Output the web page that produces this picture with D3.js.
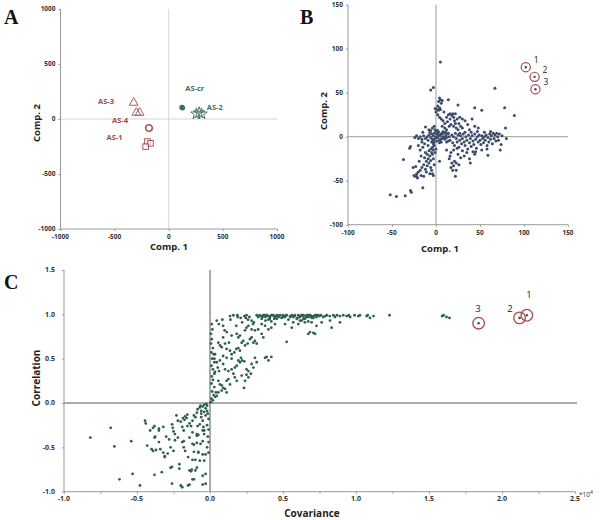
<!DOCTYPE html>
<html><head><meta charset="utf-8">
<script src="https://cdn.jsdelivr.net/npm/d3@7"></script>
<style>body{margin:0;background:#fff}svg{display:block}text{font-family:"Open Sans",sans-serif}text.letter{font-family:"Liberation Serif","DejaVu Serif",serif}</style>
</head><body><svg id="c" width="600" height="520"></svg>
<script>
// ---------- Panel A: sample scores ----------
const aTicks = [-1000, -500, 0, 500, 1000];
const as3 = [[-324,148],[-299,57],[-269,57]];
const as4 = [[-185,-80],[-180,-84]];
const as1 = [[-197,-205],[-169,-221],[-213,-251]];
const ascr = [[127,102],[122,105]];
const as2 = [[256,47],[281,57],[303,47]];
const aLabels = [
  {t:"AS-3", x:-580, y:140, g:"r"},
  {t:"AS-4", x:-450, y:-40, g:"r"},
  {t:"AS-1", x:-500, y:-195, g:"r"},
  {t:"AS-cr", x:240, y:255, g:"g"},
  {t:"AS-2", x:425, y:85, g:"g"}
];
// ---------- Panel B: variable loadings ----------
const bTicks = [-100, -50, 0, 50, 100, 150];
const bPts = [
[5,85],[-6,53],[-3,56],[67,55],
[4,44],[5,42],[7,41],[3,40],[6,38],[14,42],[25,36],[44,33],[52,30],[78,33],[89,24],[79,10],[80,-2],[73,-15],[59,-21],[42,-17],[39,-30],[22,-45],[23,-38],[4,-28],[-4,-42],[-3,-44],[-15,-58],[-29,-61],[-28,-63],[-35,-67],[-45,-68],[-52,-66],[-37,-26],[-30,-13],[-29,-11],[-24,-1],
[-1,32],[1,31],[3,30],[5,31],[0,28],[2,25],[4,22],[6,20],[8,18],[10,15],[12,22],[14,25],[16,20],[18,24],[19,26],[20,22],[21,18],[22,26],[24,20],[26,15],[28,12],[30,10],[17,14],[15,12],[10,10],[12,8],[-2,12],[-4,10],[-8,8],[-12,11],[-15,5],[20,12],[23,10],[25,8],[7,12],[33,18],[36,14],[38,8],[30,20],[41,20],[44,12],[48,10],[9,28],[2,35],[4,33],[16,26],[22,15],[13,17],[27,22],
[-10,0],[-8,2],[-6,-1],[-5,3],[-4,-3],[-3,1],[-2,4],[-1,-2],[0,0],[1,3],[2,-1],[3,2],[4,-4],[5,1],[6,3],[7,-2],[8,0],[9,4],[10,-3],[11,1],[12,-1],[13,3],[14,-5],[15,0],[-7,5],[-9,-4],[-12,-2],[-14,1],[-16,-3],[-18,0],[-20,-2],[-22,1],[-2,-6],[0,6],[2,7],[4,-7],[6,-6],[8,6],[-1,8],[3,5],[5,-3],[7,4],[-3,-4],[1,-5],[9,-1],[11,5],[-5,-6],[-6,7],[12,-6],[14,4],
[16,-4],[18,2],[19,-7],[20,0],[21,-10],[22,4],[23,-2],[24,-6],[25,2],[26,-12],[27,-4],[28,1],[29,-8],[30,-2],[31,3],[32,-6],[33,-10],[34,0],[35,-4],[36,-14],[37,2],[38,-7],[39,-2],[40,-11],[41,1],[42,-5],[43,-9],[44,3],[45,-3],[46,-13],[47,0],[48,-6],[49,2],[50,-4],[51,-9],[52,1],[53,-2],[54,-7],[55,0],[56,-4],[57,2],[58,-10],[59,-1],[60,-6],[61,3],[62,-3],[63,1],[64,-8],[65,4],[66,-2],[67,2],[68,-5],[70,0],[71,-4],[72,3],[74,-9],[75,1],[30,-16],[35,-18],[45,-17],[52,-15],[20,-15],[25,-20],[28,-24],[32,-22],[38,-25],[17,-18],[12,-15],[27,4],[33,5],[40,5],[47,6],[55,5],[62,6],[69,4],[24,-13],[44,-20],[58,-14],
[-2,-10],[-4,-12],[-6,-14],[-8,-16],[-5,-18],[-10,-20],[-12,-18],[-7,-22],[-9,-25],[-11,-28],[-13,-24],[-6,-27],[-4,-20],[-3,-15],[-8,-30],[-10,-33],[-14,-32],[-16,-35],[-12,-37],[-18,-38],[-20,-40],[-22,-42],[-24,-45],[-21,-47],[-17,-44],[-6,-35],[-5,-38],[-3,-25],[-1,-18],[-15,-12],[-18,-15],[-20,-10],[-17,-22],[-19,-28],[-11,-40],[-7,-42],[-14,-45],[-26,-35],[-23,-34],[-25,-44],[-22,-45],[0,-14],[-2,-32],[-9,-10],[-13,-8],[-16,-6],[-3,-8],
[15,-25],[18,-30],[20,-33],[17,-35],[19,-38],[21,-28],[16,-22],[23,-30],[26,-32]
];
const bCircled = [[102,79,"1"],[112,68,"2"],[113,54,"3"]];
// ---------- Panel C: S-plot ----------
const cxTicks = [-1.0, -0.5, 0.0, 0.5, 1.0, 1.5, 2.0, 2.5];
const cyTicks = [-1.0, -0.5, 0.0, 0.5, 1.0, 1.5];
const cPts = [
[-0.82,-0.39],[-0.68,-0.28],[-0.655,-0.49],[-0.62,-0.86],[-0.54,-0.43],[-0.53,-0.80],[-0.48,-0.93],[-0.445,-0.20],[-0.44,-0.23],[-0.43,-0.48],[-0.41,-0.31],[-0.39,-0.28],[-0.38,-0.26],[-0.35,-0.29],[-0.40,-0.52],[-0.39,-0.54],[-0.37,-0.53],[-0.38,-0.39],[-0.35,-0.44],[-0.38,-0.81],[-0.33,-0.78],[-0.32,-0.56],[-0.31,-0.61],[-0.28,-0.41],[-0.27,-0.50],[-0.25,-0.54],[-0.26,-0.24],[-0.255,-0.28],[-0.27,-0.73],[-0.25,-0.32],[-0.24,-0.42],[-0.22,-0.20],[-0.21,-0.74],[-0.20,-0.93],[-0.19,-0.95],[-0.20,-0.21],[-0.185,-0.17],[-0.175,-0.19],[-0.19,-0.44],[-0.18,-0.43],[-0.17,-0.15],[-0.16,-0.17],[-0.155,-0.13],[-0.15,-0.61],[-0.14,-0.76],[-0.13,-0.77],[-0.125,-0.75],[-0.15,-0.93],[-0.14,-0.23],[-0.12,-0.33],[-0.12,-0.46],[-0.11,-0.47],[-0.11,-0.55],[-0.12,-0.64],[-0.12,-0.86],[-0.10,-0.16],[-0.09,-0.11],[-0.085,-0.07],[-0.09,-0.73],[-0.09,-0.37],[-0.08,-0.36],[-0.085,-0.26],[-0.08,-0.55],[-0.07,-0.05],[-0.065,-0.03],[-0.06,-0.09],[-0.07,-0.65],[-0.065,-0.46],[-0.05,-0.43],[-0.05,-0.82],[-0.05,-0.92],[-0.05,-0.20],[-0.045,-0.27],[-0.04,-0.31],[-0.04,-0.35],[-0.05,-0.04],[-0.04,-0.02],[-0.03,-0.06],[-0.025,-0.01],[-0.02,-0.03],[-0.015,-0.12],[-0.01,-0.18],[-0.02,-0.25],[-0.01,-0.30],[-0.015,-0.38],[-0.01,-0.44],[-0.02,-0.50],[-0.01,-0.56],[-0.03,-0.58],[-0.04,-0.65],[-0.03,-0.80],[-0.03,-0.91],[-0.21,-0.69],[-0.22,-0.39],[-0.23,-0.14],[-0.24,-0.35],[-0.19,-0.27],[-0.18,-0.31],[-0.18,-0.50],[-0.17,-0.54],[-0.14,-0.39],[-0.13,-0.26],[-0.11,-0.14],[-0.10,-0.64],[-0.09,-0.45],[-0.09,-0.35],[-0.08,-0.56],[-0.07,-0.24],[-0.06,-0.12],[-0.05,-0.31],[-0.05,-0.58],[-0.04,-0.10],[-0.11,-0.86],[-0.14,-0.92],[-0.10,-0.76],[-0.26,-0.91],[-0.26,-0.72],[-0.29,-0.57],[-0.31,-0.60],[-0.34,-0.52],[-0.35,-0.31],[-0.375,-0.38],[-0.32,-0.27],[-0.30,-0.38],[-0.155,-0.26],[-0.12,-0.20],[-0.06,-0.16],[-0.03,-0.14],[-0.02,-0.09],
[0.012,0.89],[0.016,0.83],[0.007,0.78],[0.012,0.72],[0.007,0.67],[0.02,0.62],[0.01,0.57],[0.025,0.55],[0.015,0.50],[0.03,0.46],[0.01,0.42],[0.02,0.38],[0.03,0.33],[0.012,0.30],[0.02,0.26],[0.01,0.22],[0.03,0.18],[0.015,0.13],[0.025,0.09],[0.01,0.05],[0.02,0.03],[0.035,0.07],[0.04,0.12],[0.005,0.01],
[0.046,0.93],[0.06,0.89],[0.085,0.94],[0.09,0.87],[0.10,0.82],[0.115,0.80],[0.137,0.98],[0.16,0.99],[0.187,0.99],[0.14,0.94],[0.18,0.87],[0.19,0.97],[0.21,0.96],[0.22,0.91],[0.235,0.98],[0.245,0.96],[0.25,0.99],[0.26,0.94],[0.27,0.97],[0.285,0.93],[0.295,0.89],[0.30,0.91],
[0.32,0.99],[0.33,0.97],[0.34,0.99],[0.354,0.95],[0.365,0.99],[0.372,0.99],[0.38,0.97],[0.388,0.99],[0.40,0.98],[0.41,0.95],[0.42,0.99],[0.434,0.99],[0.445,0.97],[0.457,0.95],[0.468,0.98],[0.48,0.99],[0.49,0.96],[0.50,0.99],[0.514,0.97],[0.525,0.99],[0.537,0.94],[0.548,0.98],[0.56,0.99],[0.57,0.97],[0.58,0.99],[0.594,0.95],[0.605,0.99],[0.616,0.97],[0.628,0.99],[0.64,0.98],[0.65,0.95],[0.662,0.99],[0.673,0.97],[0.685,0.99],[0.696,0.98],[0.708,0.96],[0.72,0.99],[0.73,0.97],[0.742,0.99],
[0.36,0.97],[0.39,0.99],[0.41,0.97],[0.43,0.99],[0.45,0.98],[0.47,0.97],[0.38,0.93],[0.40,0.94],[0.42,0.92],[0.44,0.95],[0.46,0.99],[0.35,0.98],[0.50,0.97],[0.52,0.99],[0.55,0.97],[0.58,0.98],[0.60,0.96],[0.63,0.99],[0.66,0.98],[0.69,0.97],[0.72,0.98],
[0.354,0.89],[0.377,0.87],[0.40,0.83],[0.42,0.85],[0.445,0.89],[0.514,0.89],[0.56,0.85],[0.605,0.89],[0.65,0.91],[0.685,0.80],[0.708,0.79],[0.525,0.69],[0.57,0.91],[0.628,0.93],
[0.057,0.68],[0.068,0.65],[0.08,0.63],[0.103,0.67],[0.114,0.61],[0.13,0.68],[0.137,0.59],[0.148,0.55],[0.167,0.57],[0.18,0.61],[0.194,0.62],[0.205,0.59],[0.217,0.68],[0.228,0.70],[0.24,0.65],[0.258,0.67],[0.274,0.72],[0.285,0.74],[0.297,0.68],[0.308,0.70],[0.32,0.67],
[0.194,0.74],[0.205,0.76],[0.24,0.82],[0.25,0.85],[0.183,0.78],[0.308,0.82],[0.33,0.83],[0.354,0.78],[0.365,0.74],[0.42,0.52],[0.377,0.51],[0.388,0.52],[0.40,0.48],
[0.034,0.55],[0.03,0.50],[0.046,0.46],[0.053,0.40],[0.062,0.36],[0.034,0.35],[0.09,0.44],[0.103,0.38],[0.126,0.36],[0.148,0.38],[0.17,0.40],[0.183,0.42],[0.194,0.48],[0.205,0.46],[0.22,0.48],[0.235,0.47],[0.212,0.51],
[0.25,0.38],[0.263,0.36],[0.28,0.33],[0.25,0.32],[0.263,0.29],[0.285,0.44],[0.297,0.40],[0.308,0.51],[0.32,0.46],
[0.057,0.25],[0.068,0.21],[0.08,0.20],[0.09,0.17],[0.114,0.25],[0.126,0.27],[0.137,0.21],[0.233,0.17],[0.17,0.29],[0.183,0.25],[0.057,0.12],[0.08,0.14],[0.103,0.16],[0.046,0.08],
[0.09,0.53],[0.114,0.51],[0.148,0.50],[0.068,0.48],[0.16,0.33],[0.217,0.31],[0.24,0.25],[0.114,0.12],[0.09,0.74],[0.148,0.76],[0.263,0.87],[0.285,0.83],
[0.62,0.98],[0.64,0.99],[0.66,0.97],[0.685,0.99],[0.71,0.98],[0.73,0.99],[0.75,0.98],[0.776,0.97],[0.80,0.99],[0.82,0.98],[0.845,0.99],[0.856,0.97],[0.89,0.98],[0.913,0.99],[0.936,0.98],[0.96,0.97],[0.99,0.99],[1.016,0.98],[1.027,0.99],[1.073,0.98],[1.096,0.96],[1.12,0.98],[0.67,0.99],[0.70,0.96],[0.76,0.99],[0.79,0.98],[0.87,0.99],[0.95,0.99],[1.08,0.99],
[0.616,0.93],[0.64,0.95],[0.673,0.92],[0.696,0.91],[0.73,0.87],[0.765,0.91],[0.822,0.93],[0.833,0.85],[0.89,0.91],[0.673,0.78],[0.72,0.78],
[1.23,0.99],[1.59,0.98],[1.60,0.99],[1.62,0.97],[1.64,0.96]
];
const cCircled = [[2.17,0.99,"1"],[2.12,0.96,"2"],[1.84,0.90,"3"]];

const svg = d3.select("#c");
const RED = "#a3484b", GREEN = "#3f6e5d", BLUE = "#3d4b6b", CGREEN = "#2f5f50", RING = "#b04646";

function frame(g, x, y, xt, yt, fmt, opts) {
  const [x0,x1] = x.range(), [y0,y1] = y.range();
  g.append("line").attr("x1",x0).attr("x2",opts.zeroX2||x1).attr("y1",y(0)).attr("y2",y(0)).attr("stroke",opts.zc).attr("stroke-width",opts.zw);
  g.append("line").attr("x1",x(0)).attr("x2",x(0)).attr("y1",y0).attr("y2",y1).attr("stroke",opts.zc).attr("stroke-width",opts.zw);
  const ax = d3.axisBottom(x).tickValues(opts.xMinor||xt).tickSize(opts.ts).tickFormat("");
  const gx = g.append("g").attr("transform",`translate(0,${y0})`).call(ax);
  const ay = d3.axisLeft(y).tickValues(yt).tickSize(opts.ts).tickFormat("");
  const gy = g.append("g").attr("transform",`translate(${x0},0)`).call(ay);
  [gx,gy].forEach(a=>{a.selectAll("path,line").attr("stroke",opts.ac).attr("stroke-width",1);});
  gx.select(".domain").attr("d",`M${x0},0H${x1}`);
  gy.select(".domain").attr("d",`M0,${y0}V${y1}`);
  xt.forEach(v=>g.append("text").attr("x",x(v)).attr("y",y0+opts.xly).attr("text-anchor","middle")
    .attr("font-size",opts.fs).attr("font-weight","bold").attr("fill","#333").text(fmt(v)));
  yt.forEach(v=>g.append("text").attr("x",x0-opts.ylx).attr("y",y(v)+opts.fs*0.35).attr("text-anchor","end")
    .attr("font-size",opts.fs).attr("font-weight","bold").attr("fill","#333").text(fmt(v)));
}
function title(x,y,t,fs,rot){
  const e = svg.append("text").attr("x",x).attr("y",y).attr("text-anchor","middle").attr("font-size",fs)
    .attr("font-weight","bold").attr("fill","#222").text(t);
  if(rot) e.attr("transform",`rotate(-90,${x},${y})`);
}
function letter(x,y,t){
  svg.append("text").attr("class","letter").attr("x",x).attr("y",y).attr("font-size",20)
    .attr("font-weight","bold").attr("fill","#111").text(t);
}

// ===== Panel A =====
const xA = d3.scaleLinear([-1000,1000],[60.5,277]);
const yA = d3.scaleLinear([-1000,1000],[229,9]);
const gA = svg.append("g");
frame(gA, xA, yA, aTicks, aTicks, d=>d, {zc:"#d4d4d4", zw:1, ac:"#9a9a9a", ts:2, xly:10, ylx:5, fs:6.5});
title(169,250,"Comp. 1",9.5); title(40,123,"Comp. 2",9.5,true);
letter(4,24,"A");
const tri = d3.symbol(d3.symbolTriangle, 34);
as3.forEach(d=>gA.append("path").attr("d",tri).attr("transform",`translate(${xA(d[0])},${yA(d[1])})`).attr("fill","none").attr("stroke",RED).attr("stroke-width",0.9));
as4.forEach(d=>gA.append("circle").attr("cx",xA(d[0])).attr("cy",yA(d[1])).attr("r",3.4).attr("fill","none").attr("stroke",RED).attr("stroke-width",1));
as1.forEach(d=>gA.append("rect").attr("x",xA(d[0])-2.8).attr("y",yA(d[1])-2.8).attr("width",5.6).attr("height",5.6).attr("fill","#fff").attr("fill-opacity",0.6).attr("stroke",RED).attr("stroke-width",0.9));
ascr.forEach(d=>gA.append("circle").attr("cx",xA(d[0])).attr("cy",yA(d[1])).attr("r",2.6).attr("fill",GREEN));
const star = d3.symbol(d3.symbolStar, 40);
as2.forEach(d=>gA.append("path").attr("d",star).attr("transform",`translate(${xA(d[0])},${yA(d[1])})`).attr("fill","none").attr("stroke",GREEN).attr("stroke-width",0.9));
aLabels.forEach(l=>gA.append("text").attr("x",xA(l.x)).attr("y",yA(l.y)).attr("text-anchor","middle").attr("font-size",7.5).attr("font-weight","bold").attr("fill",l.g==="r"?RED:GREEN).text(l.t));

// ===== Panel B =====
const xB = d3.scaleLinear([-100,150],[348,568]);
const yB = d3.scaleLinear([-100,150],[224.7,4.7]);
const gB = svg.append("g");
frame(gB, xB, yB, bTicks, bTicks, d=>d, {zc:"#9a9a9a", zw:1, ac:"#9a9a9a", ts:2, xly:10, ylx:5, fs:6.5});
title(440,252,"Comp. 1",9.5); title(327,111,"Comp. 2",9.5,true);
letter(300,24,"B");
gB.selectAll("circle.p").data(bPts).join("circle").attr("cx",d=>xB(d[0])).attr("cy",d=>yB(d[1])).attr("r",1.5).attr("fill",BLUE);
bCircled.forEach(d=>{
  gB.append("circle").attr("cx",xB(d[0])).attr("cy",yB(d[1])).attr("r",1.2).attr("fill",BLUE);
  gB.append("circle").attr("cx",xB(d[0])).attr("cy",yB(d[1])).attr("r",4.6).attr("fill","none").attr("stroke",RING).attr("stroke-width",1.2);
  gB.append("text").attr("x",xB(d[0])+8).attr("y",yB(d[1])-4).attr("font-size",8.5).attr("fill","#222").text(d[2]);
});

// ===== Panel C =====
const xC = d3.scaleLinear([-1,2.5],[64,575]);
const yC = d3.scaleLinear([-1,1.5],[491.7,270]);
const gC = svg.append("g");
const minor = d3.range(-1,2.51,0.25);
frame(gC, xC, yC, cxTicks, cyTicks, d=>d.toFixed(1), {zc:"#555", zw:1, ac:"#999", ts:2, xly:9, ylx:9, fs:7, xMinor:minor, zeroX2:577});
gC.selectAll("circle.p").data(cPts).join("circle").attr("cx",d=>xC(d[0])).attr("cy",d=>yC(d[1])).attr("r",1.4).attr("fill",CGREEN);
cCircled.forEach(d=>{
  gC.append("circle").attr("cx",xC(d[0])).attr("cy",yC(d[1])).attr("r",1.3).attr("fill",CGREEN);
  gC.append("circle").attr("cx",xC(d[0])).attr("cy",yC(d[1])).attr("r",5.8).attr("fill","none").attr("stroke",RING).attr("stroke-width",1.3);
});
[[529,298,"1"],[510,312,"2"],[478,312,"3"]].forEach(t=>gC.append("text").attr("x",t[0]).attr("y",t[1]).attr("text-anchor","middle").attr("font-size",9.5).attr("fill","#222").text(t[2]));
gC.append("text").attr("x",579).attr("y",497).attr("font-size",6.5).attr("fill","#333").text("*10").append("tspan").attr("dy",-3).attr("font-size",5).text("4");
title(312,517,"Covariance",10); title(40,378,"Correlation",10,true);
letter(4,289,"C");
</script></body></html>
